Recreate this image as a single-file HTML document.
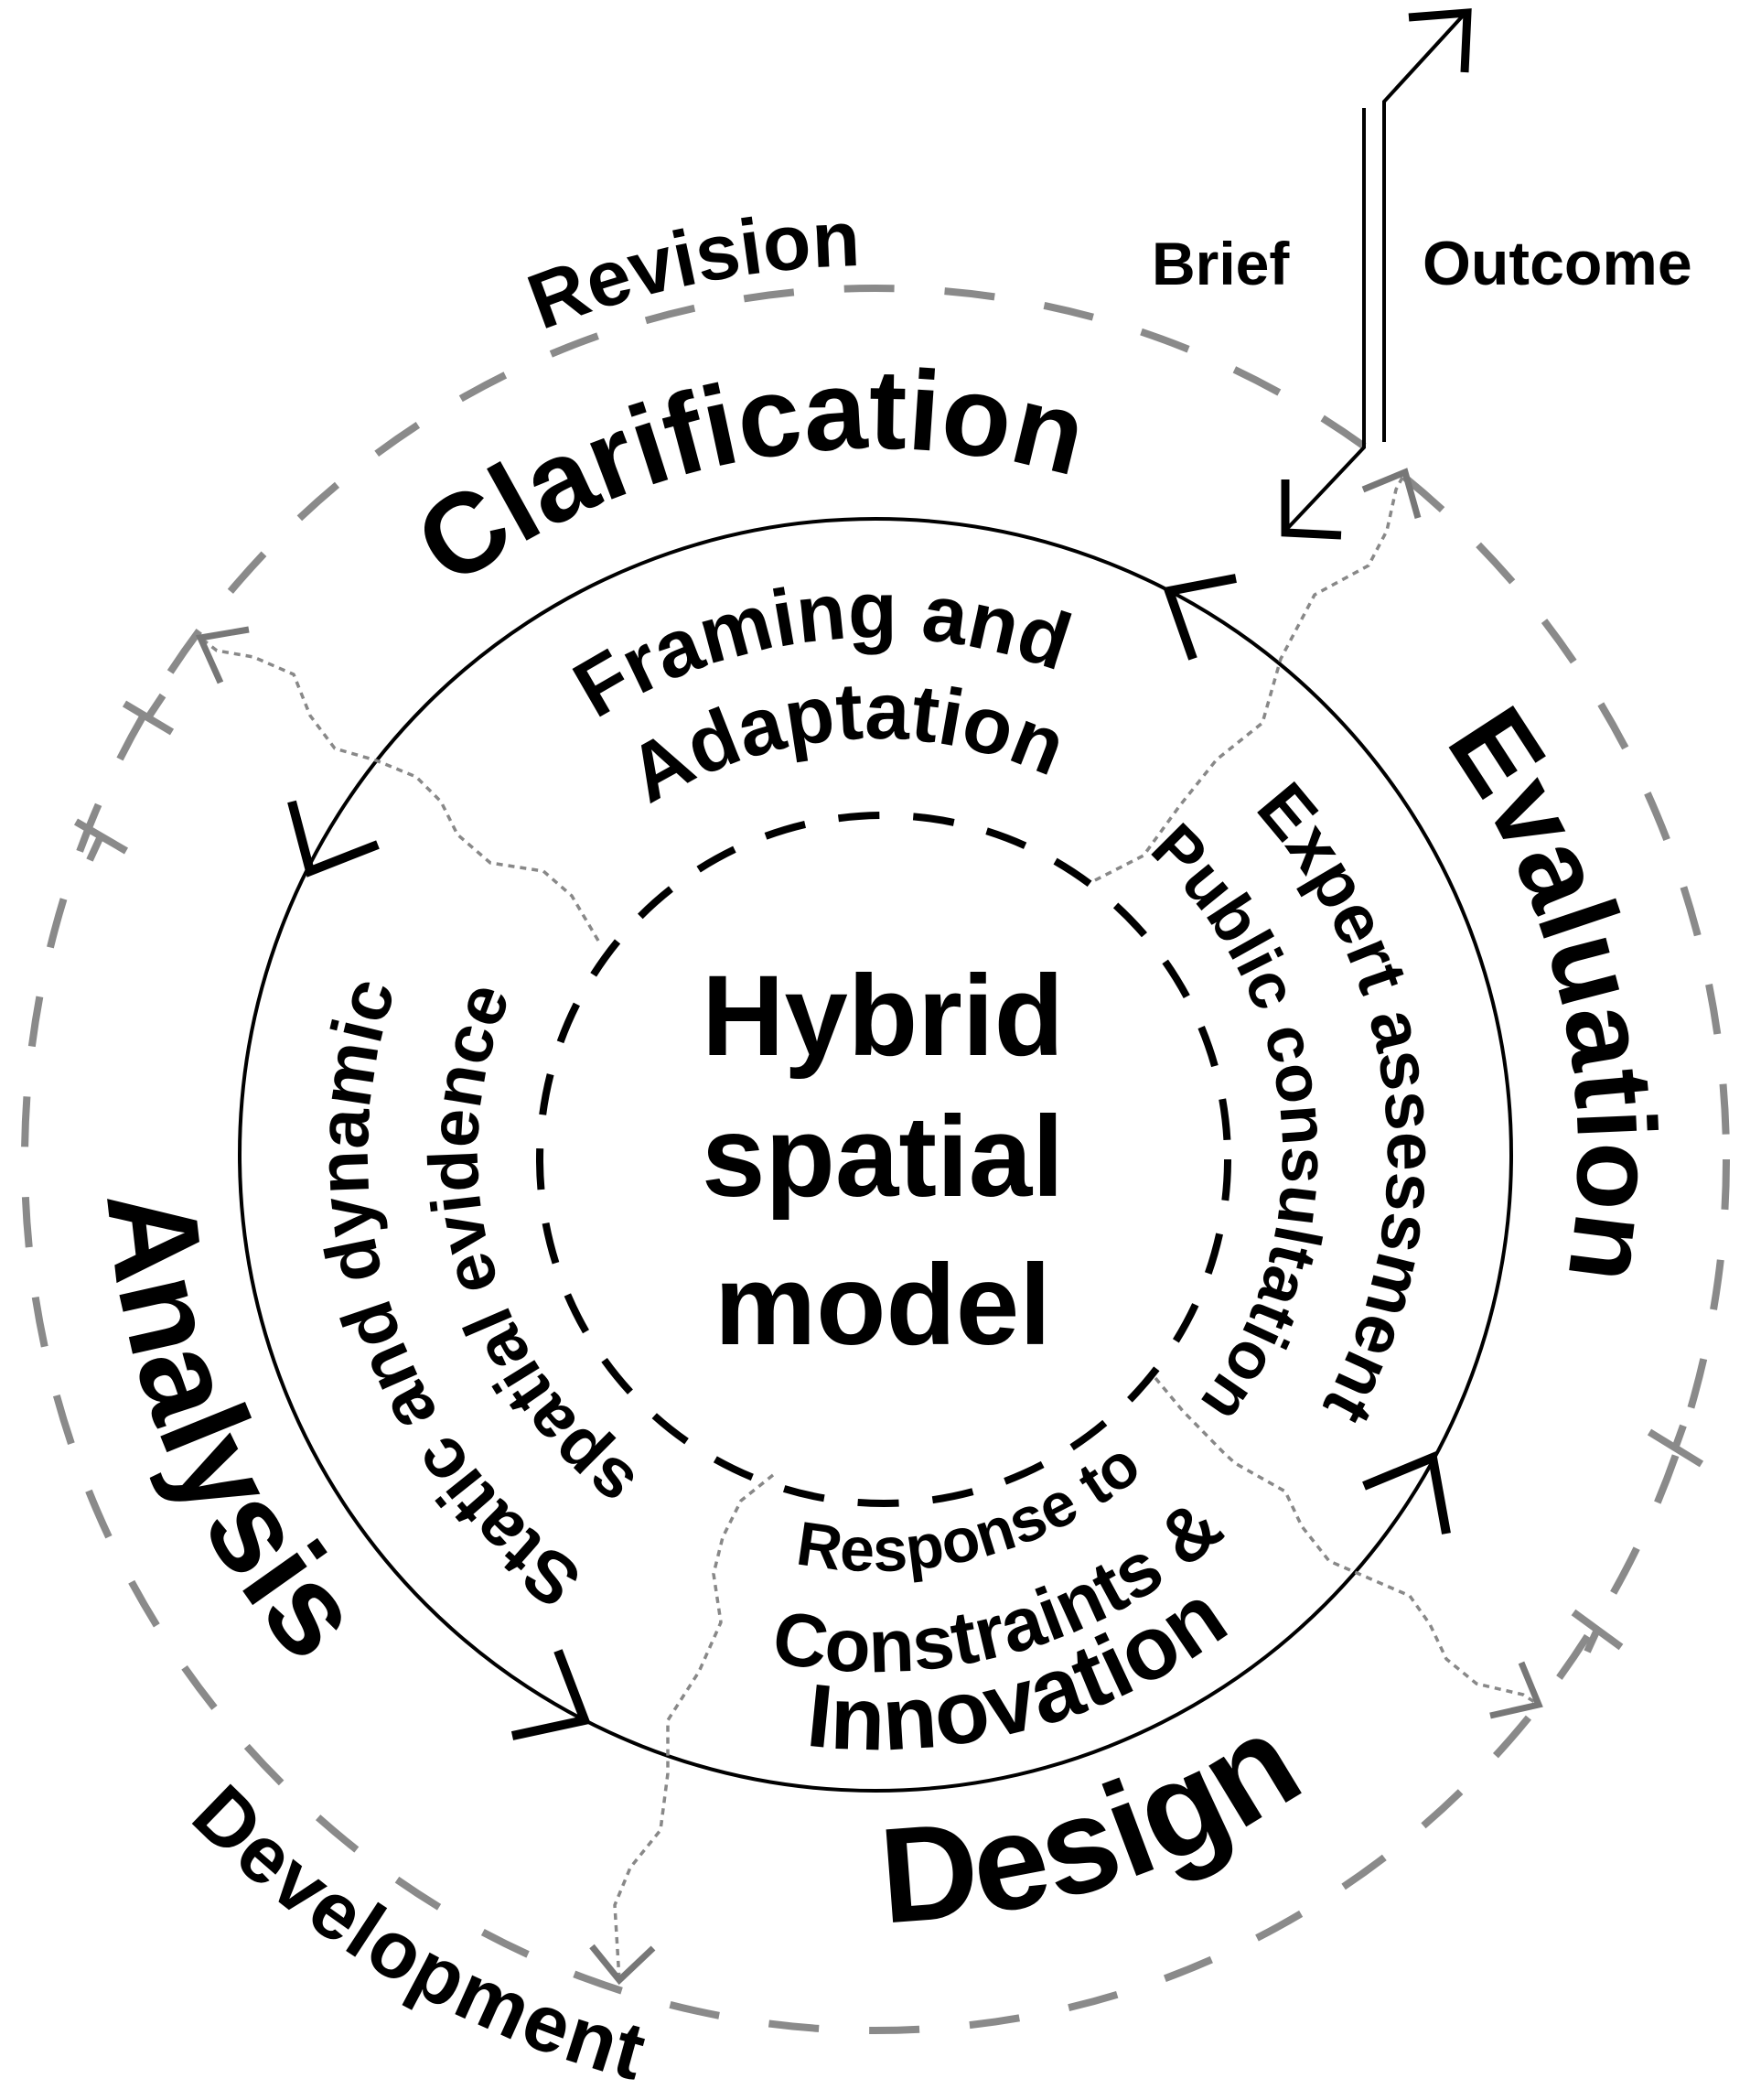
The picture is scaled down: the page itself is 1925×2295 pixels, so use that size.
<!DOCTYPE html>
<html><head><meta charset="utf-8"><style>
html,body{margin:0;padding:0;background:#fff;}
svg{display:block;}
text{font-family:"Liberation Sans",sans-serif;font-weight:bold;fill:#000;}
</style></head><body>
<svg width="1925" height="2295" viewBox="0 0 1925 2295" xmlns="http://www.w3.org/2000/svg">
<defs>
<path id="cw972" d="M -972 0 A 972 972 0 0 1 972 0 A 972 972 0 0 1 -972 0"/>
<path id="cw772" d="M -772 0 A 772 772 0 0 1 772 0 A 772 772 0 0 1 -772 0"/>
<path id="cw768" d="M -768 0 A 768 768 0 0 1 768 0 A 768 768 0 0 1 -768 0"/>
<path id="cw565" d="M -565 0 A 565 565 0 0 1 565 0 A 565 565 0 0 1 -565 0"/>
<path id="cw455" d="M -455 0 A 455 455 0 0 1 455 0 A 455 455 0 0 1 -455 0"/>
<path id="cw560" d="M -560 0 A 560 560 0 0 1 560 0 A 560 560 0 0 1 -560 0"/>
<path id="cw445" d="M -445 0 A 445 445 0 0 1 445 0 A 445 445 0 0 1 -445 0"/>
<path id="cw555" d="M -555 0 A 555 555 0 0 1 555 0 A 555 555 0 0 1 -555 0"/>
<path id="cw435" d="M -435 0 A 435 435 0 0 1 435 0 A 435 435 0 0 1 -435 0"/>
<path id="ccw455" d="M -455 0 A 455 455 0 0 0 455 0 A 455 455 0 0 0 -455 0"/>
<path id="ccw565" d="M -565 0 A 565 565 0 0 0 565 0 A 565 565 0 0 0 -565 0"/>
<path id="ccw650" d="M -650 0 A 650 650 0 0 0 650 0 A 650 650 0 0 0 -650 0"/>
<path id="ccw838" d="M -838 0 A 838 838 0 0 0 838 0 A 838 838 0 0 0 -838 0"/>
<path id="ccw840" d="M -840 0 A 840 840 0 0 0 840 0 A 840 840 0 0 0 -840 0"/>
<path id="ccw1045" d="M -1045 0 A 1045 1045 0 0 0 1045 0 A 1045 1045 0 0 0 -1045 0"/>
</defs>

<!-- outer gray dashed ellipse -->
<ellipse cx="957" cy="1267" rx="930" ry="952" fill="none" stroke="#8a8a8a" stroke-width="8" stroke-dasharray="55 55"/>
<!-- tick marks on outer ring -->
<g stroke="#8a8a8a" stroke-width="8" fill="none">
<line x1="136" y1="769" x2="188" y2="800"/><line x1="162" y1="784" x2="178" y2="760"/>
<line x1="83" y1="898" x2="138" y2="930"/><line x1="110" y1="914" x2="98" y2="940"/>
<line x1="1803" y1="1565" x2="1860" y2="1600"/><line x1="1831" y1="1583" x2="1840" y2="1558"/>
<line x1="1720" y1="1762" x2="1772" y2="1800"/><line x1="1746" y1="1781" x2="1735" y2="1805"/>
</g>

<!-- solid circle -->
<circle cx="957" cy="1262" r="695" fill="none" stroke="#000" stroke-width="4"/>
<!-- inner dashed circle -->
<circle cx="966" cy="1267" r="376" fill="none" stroke="#000" stroke-width="8" stroke-dasharray="45 37"/>

<!-- black chevrons on solid circle -->
<g stroke="#000" stroke-width="10" fill="none" stroke-linejoin="miter">
<polyline points="1351,632 1278,646 1304,720"/>
<polyline points="319,876 339,952 413,923"/>
<polyline points="610,1804 639,1880 560,1897"/>
<polyline points="1491,1624 1566,1593 1581,1676"/>
</g>

<!-- dotted connectors -->
<g stroke="#888" stroke-width="3.5" fill="none" stroke-dasharray="7 6" stroke-linejoin="round">
<polyline points="654,1028 625,979 594,952 536,943 500,912 482,876 455,849 411,831 366,818 339,782 321,737 277,718 237,711 219,697"/>
<polyline points="1197,962 1250,935 1290,880 1330,830 1380,790 1400,720 1437,650 1496,618 1516,580 1526,535 1536,516"/>
<polyline points="1263,1506 1293,1542 1337,1587 1350,1599 1405,1630 1423,1668 1453,1706 1497,1725 1541,1744 1563,1775 1581,1813 1614,1840 1665,1852 1682,1863"/>
<polyline points="845,1612 810,1640 790,1680 780,1720 788,1773 764,1827 730,1880 730,1938 722,2000 689,2041 672,2082 677,2164"/>
</g>
<g stroke="#777" stroke-width="7" fill="none">
<polyline points="272,688 219,697 241,746"/>
<polyline points="1490,535 1536,516 1550,566"/>
<polyline points="1629,1875 1682,1863 1663,1817"/>
<polyline points="647,2127 677,2164 714,2129"/>
</g>

<!-- Brief / Outcome -->
<g stroke="#000" stroke-width="4" fill="none">
<polyline points="1513,483 1513,111 1602,14"/>
<polyline points="1491,118 1491,489 1405,580"/>
</g>
<g stroke="#000" stroke-width="9" fill="none">
<polyline points="1540,19 1604,14 1601,79"/>
<polyline points="1405,524 1405,582 1466,585"/>
</g>
<text x="1259" y="311" font-size="66">Brief</text>
<text x="1555" y="311" font-size="68">Outcome</text>

<!-- center text -->
<text x="965" y="1153" font-size="125" text-anchor="middle">Hybrid</text>
<text x="965" y="1307" font-size="125" text-anchor="middle">spatial</text>
<text x="965" y="1469" font-size="125" text-anchor="middle">model</text>

<!-- curved texts -->
<g transform="translate(957 1262) rotate(258.5)"><text font-size="86" text-anchor="middle"><textPath href="#cw972" startOffset="50%">Revision</textPath></text></g>
<g transform="translate(957 1262) rotate(259.7)"><text font-size="124" text-anchor="middle"><textPath href="#cw772" startOffset="50%">Clarification</textPath></text></g>
<g transform="translate(957 1262) rotate(264)"><text font-size="88" text-anchor="middle"><textPath href="#cw565" startOffset="50%">Framing and</textPath></text></g>
<g transform="translate(957 1262) rotate(266)"><text font-size="88" text-anchor="middle"><textPath href="#cw455" startOffset="50%">Adaptation</textPath></text></g>
<g transform="translate(957 1262) rotate(-13)"><text font-size="122" text-anchor="middle"><textPath href="#cw768" startOffset="50%">Evaluation</textPath></text></g>
<g transform="translate(957 1262) rotate(-6.5)"><text font-size="77" text-anchor="middle"><textPath href="#cw560" startOffset="50%">Expert assessment</textPath></text></g>
<g transform="translate(957 1262) rotate(-5.3)"><text font-size="72" text-anchor="middle"><textPath href="#cw445" startOffset="50%">Public consultation</textPath></text></g>
<g transform="translate(957 1262) rotate(162)"><text font-size="79" text-anchor="middle"><textPath href="#cw555" startOffset="50%">Static and dynamic</textPath></text></g>
<g transform="translate(957 1262) rotate(165)"><text font-size="76" text-anchor="middle"><textPath href="#cw435" startOffset="50%">spatial evidence</textPath></text></g>
<g transform="translate(957 1262) rotate(75.5)"><text font-size="68" text-anchor="middle"><textPath href="#ccw455" startOffset="50%">Response to</textPath></text></g>
<g transform="translate(957 1262) rotate(74.5)"><text font-size="82" text-anchor="middle"><textPath href="#ccw565" startOffset="50%">Constraints &amp;</textPath></text></g>
<g transform="translate(957 1262) rotate(75)"><text font-size="98" text-anchor="middle"><textPath href="#ccw650" startOffset="50%">Innovation</textPath></text></g>
<g transform="translate(957 1262) rotate(72.5)"><text font-size="148" text-anchor="middle"><textPath href="#ccw838" startOffset="50%">Design</textPath></text></g>
<g transform="translate(957 1262) rotate(157.6)"><text font-size="138" text-anchor="middle"><textPath href="#ccw840" startOffset="50%">Analysis</textPath></text></g>
<g transform="translate(957 1262) rotate(120.2)"><text font-size="88" letter-spacing="2" text-anchor="middle"><textPath href="#ccw1045" startOffset="50%">Development</textPath></text></g>
</svg>
</body></html>
